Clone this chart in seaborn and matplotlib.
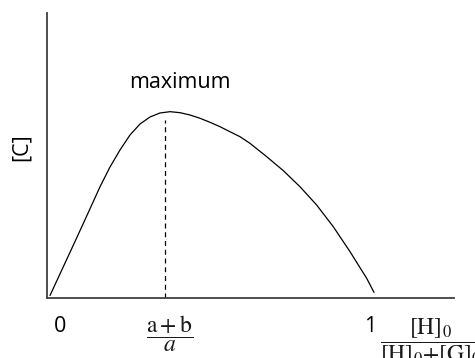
import numpy as np
import pandas as pd
import matplotlib
matplotlib.use("Agg")
import matplotlib.pyplot as plt
import seaborn as sns

# Curve (x: mole fraction of H, y: [C] relative to its maximum)
x_frac = [0.0, 0.0386, 0.0772, 0.1157, 0.1543, 0.1852, 0.2160, 0.2469, 0.2778,
          0.3086, 0.3395, 0.3704, 0.4012, 0.4321, 0.4630, 0.4938, 0.5247,
          0.5556, 0.5864, 0.6173, 0.6688, 0.7201, 0.7716, 0.8231, 0.8744,
          0.9259, 0.9775, 1.0]
c_vals = [0.0134, 0.1578, 0.3021, 0.4476, 0.5947, 0.7005, 0.7914, 0.8717,
          0.9305, 0.9679, 0.9893, 0.9963, 0.991, 0.9786, 0.961, 0.9396, 0.916,
          0.889, 0.8626, 0.827, 0.7556, 0.681, 0.595, 0.497, 0.381, 0.248,
          0.105, 0.030]

# Position of the maximum marker (dashed line)
x_max = 0.356
y_dash_top = 0.952

df = pd.DataFrame({"x": x_frac, "c": c_vals})

sns.set_theme(style="white")
plt.rcParams["font.family"] = ["Open Sans", "DejaVu Sans"]
plt.rcParams["mathtext.fontset"] = "stix"

fig = plt.figure(figsize=(4.75, 3.58), dpi=100)
ax = fig.add_axes([47 / 475, 60 / 358, 407 / 475, 285 / 358])

sns.lineplot(data=df, x="x", y="c", ax=ax, color="black", lw=0.9)
ax.plot([x_max, x_max], [0, y_dash_top], color="black", lw=0.9,
        linestyle=(0, (4, 3)))

ax.set_xlim(-0.00926, 1.2469)
ax.set_ylim(0, 1.524)
ax.set_xticks([])
ax.set_yticks([])
ax.set_xlabel("")
ax.set_ylabel("")
sns.despine(ax=ax)
for s in ("left", "bottom"):
    ax.spines[s].set_color("#404040")
    ax.spines[s].set_linewidth(1.3)

ax.text(0.401, 1.15, "maximum", ha="center", va="center", fontsize=15.5,
        color="black")
ax.text(-0.0895, 0.807, "[C]", ha="center", va="center", rotation=90,
        fontsize=15.5, color="black")
ax.text(0.031, -0.155, "0", ha="center", va="center", fontsize=15.5,
        color="black", clip_on=False)
ax.text(0.988, -0.155, "1", ha="center", va="center", fontsize=15.5,
        color="black", clip_on=False)
ax.text(0.370, -0.19, r"$\dfrac{\mathrm{a+b}}{a}$", ha="center",
        va="center", fontsize=17, color="#1a1a1a", clip_on=False)
ax.text(1.177, -0.24,
        r"$\dfrac{[\mathrm{H}]_0}{[\mathrm{H}]_0{+}[\mathrm{G}]_0}$",
        ha="center", va="center", fontsize=17, color="#1a1a1a", clip_on=False)

fig.savefig("out.png", dpi=100)
